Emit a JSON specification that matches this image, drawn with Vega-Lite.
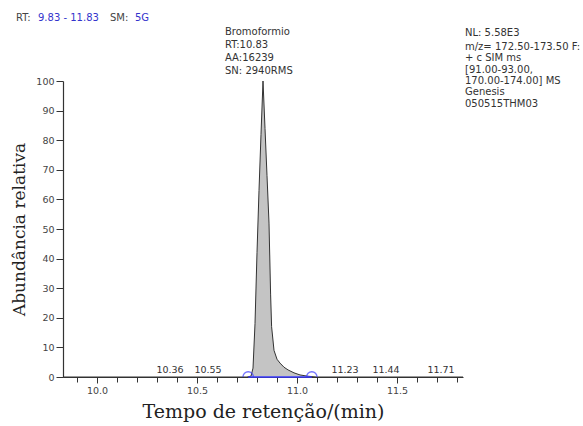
{
  "$schema": "https://vega.github.io/schema/vega-lite/v6.json",
  "autosize": "none",
  "width": 400,
  "height": 296,
  "padding": {"left": 63, "top": 81, "right": 120, "bottom": 49},
  "background": "white",
  "config": {
    "view": {"stroke": null},
    "axis": {"grid": false, "domainColor": "#333", "tickColor": "#333", "labelColor": "#444", "labelFont": "DejaVu Sans", "labelFontSize": 9.5, "titleFont": "DejaVu Serif", "titleFontWeight": "normal", "titleColor": "#222"},
    "text": {"font": "DejaVu Sans", "fontSize": 10, "color": "#333"}
  },
  "datasets": {
    "curve": [
      {"rt": 9.83, "ab": 0},
      {"rt": 10.36, "ab": 0},
      {"rt": 10.75, "ab": 0},
      {"rt": 10.77, "ab": 0.3},
      {"rt": 10.78, "ab": 3},
      {"rt": 10.79, "ab": 18},
      {"rt": 10.80, "ab": 42},
      {"rt": 10.81, "ab": 63},
      {"rt": 10.82, "ab": 82},
      {"rt": 10.83, "ab": 100},
      {"rt": 10.84, "ab": 84},
      {"rt": 10.85, "ab": 68},
      {"rt": 10.86, "ab": 52},
      {"rt": 10.868, "ab": 28},
      {"rt": 10.873, "ab": 17},
      {"rt": 10.885, "ab": 9},
      {"rt": 10.90, "ab": 6},
      {"rt": 10.915, "ab": 4.7},
      {"rt": 10.935, "ab": 3.3},
      {"rt": 10.955, "ab": 2.4},
      {"rt": 10.985, "ab": 1.4},
      {"rt": 11.015, "ab": 0.7},
      {"rt": 11.05, "ab": 0.3},
      {"rt": 11.08, "ab": 0.1},
      {"rt": 11.10, "ab": 0},
      {"rt": 11.83, "ab": 0}
    ],
    "baseline": [{"start": 10.756, "end": 11.074}],
    "marks": [{"rt": 10.756, "ab": 0}, {"rt": 11.074, "ab": 0}],
    "peaks": [
      {"rt": 10.365, "label": "10.36"},
      {"rt": 10.555, "label": "10.55"},
      {"rt": 11.24, "label": "11.23"},
      {"rt": 11.445, "label": "11.44"},
      {"rt": 11.72, "label": "11.71"}
    ],
    "apex": [{"rt": 10.83, "ab": 100, "label": "Bromoformio\nRT:10.83\nAA:16239\nSN: 2940RMS"}],
    "info1": [{"label": "NL: 5.58E3"}],
    "info2": [{"label": "m/z= 172.50-173.50 F:\n+ c SIM ms\n[91.00-93.00,\n170.00-174.00]  MS\nGenesis\n050515THM03"}],
    "hdr_rt": [{"label": "RT:"}],
    "hdr_range": [{"label": "9.83 - 11.83"}],
    "hdr_sm": [{"label": "SM:"}],
    "hdr_sg": [{"label": "5G"}]
  },
  "resolve": {"axis": {"x": "independent", "y": "independent"}},
  "layer": [
    {
      "data": {"name": "curve"},
      "mark": {"type": "area", "color": "#c4c4c4", "opacity": 1},
      "encoding": {
        "x": {"field": "rt", "type": "quantitative", "scale": {"domain": [9.83, 11.83], "nice": false, "zero": false},
              "axis": {"orient": "bottom", "values": [10.0, 10.5, 11.0, 11.5], "format": ".1f", "title": "Tempo de retenção/(min)", "titleFontSize": 19, "titlePadding": 8, "tickSize": 6, "labelPadding": 2, "domainWidth": 1.2}},
        "y": {"field": "ab", "type": "quantitative", "scale": {"domain": [0, 100], "nice": false},
              "axis": {"orient": "left", "values": [0, 10, 20, 30, 40, 50, 60, 70, 80, 90, 100], "title": "Abundância relativa", "titleFontSize": 17, "titleX": -39, "titleBaseline": "alphabetic", "tickSize": 7, "labelPadding": 2, "domainWidth": 1.2}}
      }
    },
    {
      "data": {"name": "curve"},
      "mark": {"type": "line", "color": "#333", "strokeWidth": 1},
      "encoding": {
        "x": {"field": "rt", "type": "quantitative", "axis": {"orient": "bottom", "values": [9.9, 10.1, 10.2, 10.3, 10.4, 10.6, 10.7, 10.8, 10.9, 11.1, 11.2, 11.3, 11.4, 11.6, 11.7, 11.8], "labels": false, "domain": false, "title": null, "tickSize": 5}},
        "y": {"field": "ab", "type": "quantitative", "axis": null}
      }
    },
    {
      "data": {"name": "baseline"},
      "mark": {"type": "rule", "color": "#3a3aff", "strokeWidth": 1.5},
      "encoding": {
        "x": {"field": "start", "type": "quantitative", "axis": null},
        "x2": {"field": "end"},
        "y": {"datum": 0, "axis": null}
      }
    },
    {
      "data": {"name": "marks"},
      "mark": {"type": "point", "shape": "M -1 0 A 1 1 0 0 1 1 0", "size": 110, "color": "#3a3aff", "strokeWidth": 1.3, "filled": false},
      "encoding": {
        "x": {"field": "rt", "type": "quantitative", "axis": null},
        "y": {"field": "ab", "type": "quantitative", "axis": null}
      }
    },
    {
      "data": {"name": "peaks"},
      "mark": {"type": "text", "baseline": "bottom", "dy": -2, "fontSize": 9.5},
      "encoding": {
        "x": {"field": "rt", "type": "quantitative", "axis": null},
        "y": {"datum": 0, "axis": null},
        "text": {"field": "label"}
      }
    },
    {
      "data": {"name": "apex"},
      "mark": {"type": "text", "align": "left", "baseline": "top", "dx": -38, "dy": -54, "lineBreak": "\n", "lineHeight": 13, "fontSize": 10},
      "encoding": {
        "x": {"field": "rt", "type": "quantitative", "axis": null},
        "y": {"field": "ab", "type": "quantitative", "axis": null},
        "text": {"field": "label"}
      }
    },
    {
      "data": {"name": "info1"},
      "mark": {"type": "text", "align": "left", "baseline": "middle", "dx": 2, "dy": -48, "fontSize": 10},
      "encoding": {
        "x": {"datum": 11.83, "type": "quantitative", "axis": null},
        "y": {"datum": 100, "type": "quantitative", "axis": null},
        "text": {"field": "label"}
      }
    },
    {
      "data": {"name": "info2"},
      "mark": {"type": "text", "align": "left", "baseline": "middle", "dx": 2, "dy": -34, "lineBreak": "\n", "lineHeight": 11.3, "fontSize": 10},
      "encoding": {
        "x": {"datum": 11.83, "type": "quantitative", "axis": null},
        "y": {"datum": 100, "type": "quantitative", "axis": null},
        "text": {"field": "label"}
      }
    },
    {
      "data": {"name": "hdr_rt"},
      "mark": {"type": "text", "align": "left", "baseline": "middle", "dx": -47, "dy": -63, "fontSize": 10, "color": "#444"},
      "encoding": {
        "x": {"datum": 9.83, "type": "quantitative", "axis": null},
        "y": {"datum": 100, "type": "quantitative", "axis": null},
        "text": {"field": "label"}
      }
    },
    {
      "data": {"name": "hdr_range"},
      "mark": {"type": "text", "align": "left", "baseline": "middle", "dx": -25, "dy": -63, "fontSize": 10, "color": "#3333cc"},
      "encoding": {
        "x": {"datum": 9.83, "type": "quantitative", "axis": null},
        "y": {"datum": 100, "type": "quantitative", "axis": null},
        "text": {"field": "label"}
      }
    },
    {
      "data": {"name": "hdr_sm"},
      "mark": {"type": "text", "align": "left", "baseline": "middle", "dx": 47, "dy": -63, "fontSize": 10, "color": "#444"},
      "encoding": {
        "x": {"datum": 9.83, "type": "quantitative", "axis": null},
        "y": {"datum": 100, "type": "quantitative", "axis": null},
        "text": {"field": "label"}
      }
    },
    {
      "data": {"name": "hdr_sg"},
      "mark": {"type": "text", "align": "left", "baseline": "middle", "dx": 72, "dy": -63, "fontSize": 10, "color": "#3333cc"},
      "encoding": {
        "x": {"datum": 9.83, "type": "quantitative", "axis": null},
        "y": {"datum": 100, "type": "quantitative", "axis": null},
        "text": {"field": "label"}
      }
    }
  ]
}
